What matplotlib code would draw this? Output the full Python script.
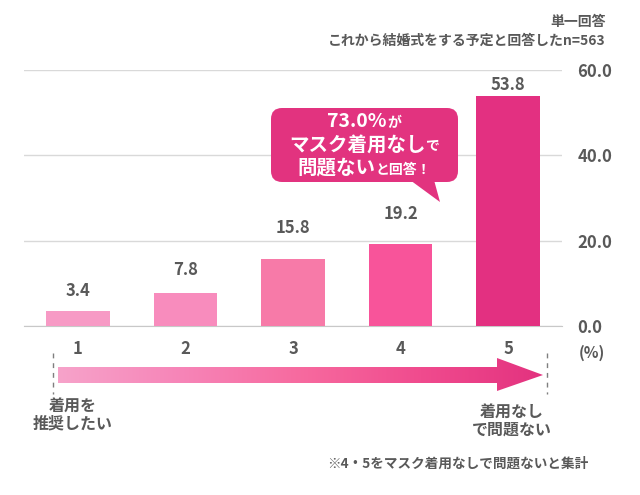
import numpy as np
import matplotlib
matplotlib.use("Agg")
import matplotlib.pyplot as plt
from matplotlib.patches import Polygon, FancyBboxPatch
from matplotlib.colors import LinearSegmentedColormap
from matplotlib.offsetbox import TextArea, HPacker, VPacker, AnnotationBbox

plt.rcParams['font.family'] = ['Noto Sans CJK JP', 'DejaVu Sans']
plt.rcParams['font.weight'] = 'bold'

# data
categories = ['1', '2', '3', '4', '5']
values = [3.4, 7.8, 15.8, 19.2, 53.8]
yticks = [0, 20, 40, 60]
bar_colors = ['#f79ac5', '#f88cbd', '#f77aa8', '#f8549a', '#e33081']
label_pad = [15, 16, 22, 22, 8]  # points above bar top

GRAY = '#595959'

fig = plt.figure(figsize=(6.4, 4.95), dpi=100)
ax = fig.add_axes([24/640, (495-326)/495, 538/640, 256/495])

x = np.arange(len(categories))
ax.bar(x, values, width=0.59, color=bar_colors, zorder=3)
for i, v in enumerate(values):
    ax.annotate(f"{v:.1f}", (i, v), xytext=(0, label_pad[i]), textcoords='offset points',
                ha='center', va='center', fontsize=12, color=GRAY, fontweight='bold')

ax.set_xlim(-0.5, 4.5)
ax.set_ylim(0, 60)
ax.set_xticks(x)
ax.set_xticklabels(categories, fontsize=12, color=GRAY, fontweight='bold')
ax.set_yticks(yticks)
ax.set_yticklabels([f"{t:.1f}" for t in yticks], fontsize=12, color=GRAY, fontweight='bold')
ax.yaxis.tick_right()
ax.tick_params(axis='y', length=0, pad=11)
ax.tick_params(axis='x', length=0, pad=10)
ax.yaxis.grid(True, color='#d9d9d9', lw=1)
ax.set_axisbelow(True)
for s in ['top', 'left', 'right']:
    ax.spines[s].set_visible(False)
ax.spines['bottom'].set_color('#c8c8c8')

# overlay in pixel coordinates for decorations
ov = fig.add_axes([0, 0, 1, 1], zorder=5)
ov.axis('off')

# gradient arrow
arrow = Polygon([(58, 367), (497, 367), (497, 358), (543, 375), (497, 391), (497, 383), (58, 383)],
                closed=True, facecolor='none', edgecolor='none')
ov.add_patch(arrow)
cmap = LinearSegmentedColormap.from_list('pk', ['#f7a3ca', '#f685b8', '#f76a9f', '#f04b8e', '#e3327f'])
grad = np.linspace(0, 1, 256).reshape(1, -1)
im = ov.imshow(grad, cmap=cmap, extent=[58, 543, 391, 358], aspect='auto', zorder=2)
im.set_clip_path(arrow)

for xd in [53, 547]:
    ov.plot([xd, xd], [353, 394], color='#7f7f7f', lw=1, ls=(0, (3.5, 3.5)))

ov.text(73, 415, "着用を\n推奨したい", ha='center', va='center', fontsize=11.5,
        color=GRAY, fontweight='bold', linespacing=1.05)
ov.text(512, 421, "着用なし\nで問題ない", ha='center', va='center', fontsize=11.5,
        color=GRAY, fontweight='bold', linespacing=1.05)
ov.text(592, 353, "(%)", ha='center', va='center', fontsize=11, color=GRAY, fontweight='bold')
ov.text(588, 464, "※4・5をマスク着用なしで問題ないと集計", ha='right', va='center',
        fontsize=9.8, color=GRAY, fontweight='bold')
ov.text(606, 22, "単一回答", ha='right', va='center', fontsize=10, color=GRAY, fontweight='bold')
ov.text(606, 41, "これから結婚式をする予定と回答したn=563", ha='right', va='center',
        fontsize=10, color=GRAY, fontweight='bold')

# callout
CALL = '#e2337f'
ov.add_patch(FancyBboxPatch((271, 108), 187, 74, boxstyle='round,pad=0,rounding_size=11',
                            facecolor=CALL, edgecolor='none', zorder=3))
ov.add_patch(Polygon([(410, 180), (434, 180), (440, 202)], closed=True,
                     facecolor=CALL, edgecolor='none', zorder=3))

big = dict(color='white', fontsize=14, fontweight='bold')
small = dict(color='white', fontsize=10, fontweight='bold')
lines = [("73.0%", "が"), ("マスク着用なし", "で"), ("問題ない", "と回答！")]
rows = [HPacker(children=[TextArea(a, textprops=big), TextArea(b, textprops=small)],
                align='baseline', pad=0, sep=0) for a, b in lines]
box = VPacker(children=rows, align='center', pad=0, sep=3)
ab = AnnotationBbox(box, (364, 145), xycoords='data', frameon=False,
                    box_alignment=(0.5, 0.5), pad=0, zorder=4)
ov.add_artist(ab)

ov.set_xlim(0, 640)
ov.set_ylim(495, 0)

fig.savefig('out.png', dpi=100)
